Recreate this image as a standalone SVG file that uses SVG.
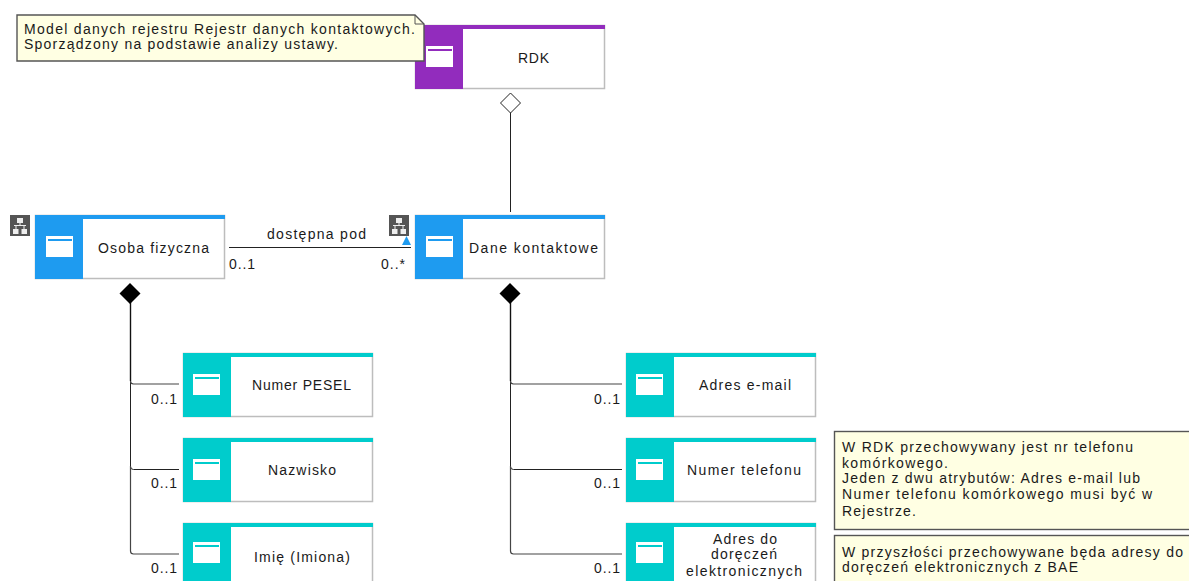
<svg xmlns="http://www.w3.org/2000/svg" width="1189" height="581" viewBox="0 0 1189 581">
<style>
text{font-family:"Liberation Sans",Arial,sans-serif;font-size:14px;fill:#1a1a1a}
.body{fill:#fff;stroke:#bdbdbd;stroke-width:1.5}
.conn{fill:none;stroke:#222;stroke-width:1}
.dark{fill:none;stroke:#111;stroke-width:1.4}
.soft{fill:none;stroke:#444;stroke-width:1.2}
.note{fill:#ffffe3;stroke:#555;stroke-width:1.4}
.i{fill:#fff}
</style>
<defs>
<g id="hier"><rect width="20" height="21" fill="#555"/><g fill="#eee"><rect x="7" y="3" width="6" height="5"/><rect x="3" y="14" width="5.500" height="5"/><rect x="11.500" y="14" width="5.500" height="5"/><path d="M9.500 8h1v2h-1zM4 10h12v1h-12zM5.500 11h1v3h-1zM13.500 11h1v3h-1z"/></g></g>
</defs>
<g id="connectors">
<path class="conn" d="M510.500 112V212"/>
<path class="conn" d="M229 247.500H411"/>
<path class="dark" d="M130.500 300V381"/><path class="conn" d="M130.500 381V466.500q0 3 3 3H179"/><path class="soft" d="M130.500 381q0 3 3 3H179M130.500 466V551q0 3 3 3H179"/>
<path class="dark" d="M510.500 300V381"/><path class="conn" d="M510.500 381V466.500q0 3 3 3H622"/><path class="soft" d="M510.500 381q0 3 3 3H622M510.500 466V551q0 3 3 3H622"/>
<path d="M510.500 93l10 10-10 10-10-10z" fill="#fff" stroke="#222"/>
<path d="M130 283l10.500 10.500-10.500 10.500-10.500-10.500z" fill="#000"/>
<path d="M510 283l10.500 10.500-10.500 10.500-10.500-10.500z" fill="#000"/>
<path d="M402 245l4.500-9 4.500 9z" fill="#1e9bf0"/>
<text x="267" y="239" textLength="99">dostępna pod</text>
<text x="229" y="269" textLength="26">0..1</text>
<text x="381" y="269" textLength="24">0..*</text>
<text x="151" y="404" textLength="26">0..1</text><text x="151" y="488" textLength="26">0..1</text><text x="151" y="573" textLength="26">0..1</text>
<text x="594" y="404" textLength="26">0..1</text><text x="594" y="488" textLength="26">0..1</text><text x="594" y="573" textLength="26">0..1</text>
</g>
<g id="rdk"><rect class="body" x="415.500" y="25.500" width="189" height="63"/><rect x="415" y="25" width="190" height="4" fill="#922cbd"/><rect x="415" y="25" width="48" height="64" fill="#922cbd"/><rect class="i" x="426" y="46" width="27" height="21"/><rect x="428" y="49" width="24" height="2" fill="#922cbd"/><text x="518" y="63" textLength="31">RDK</text></g>
<g id="note-model"><path class="note" d="M17 15H415L424 24V61H17z"/><path d="M415 15V24H424" fill="none" stroke="#555"/><text x="24" y="34" textLength="391">Model danych rejestru Rejestr danych kontaktowych.</text><text x="24" y="49" textLength="314">Sporządzony na podstawie analizy ustawy.</text></g>
<g id="osoba"><use href="#hier" x="10" y="215"/><rect class="body" x="35.500" y="215.500" width="189" height="63"/><rect x="35" y="215" width="190" height="4" fill="#1e9bf0"/><rect x="35" y="215" width="48" height="64" fill="#1e9bf0"/><rect class="i" x="46" y="236" width="27" height="21"/><rect x="48" y="239" width="24" height="2" fill="#1e9bf0"/><text x="98" y="253" textLength="111">Osoba fizyczna</text></g>
<g id="dane"><use href="#hier" x="389" y="215"/><rect class="body" x="415.500" y="215.500" width="189" height="63"/><rect x="415" y="215" width="190" height="4" fill="#1e9bf0"/><rect x="415" y="215" width="48" height="64" fill="#1e9bf0"/><rect class="i" x="426" y="236" width="27" height="21"/><rect x="428" y="239" width="24" height="2" fill="#1e9bf0"/><text x="469" y="253" textLength="129">Dane kontaktowe</text></g>
<g id="pesel"><rect class="body" x="183.500" y="353.500" width="189" height="63"/><rect x="183" y="353" width="190" height="4" fill="#00cccc"/><rect x="183" y="353" width="48" height="64" fill="#00cccc"/><rect class="i" x="193" y="374" width="27" height="21"/><rect x="195" y="377" width="24" height="2" fill="#00cccc"/><text x="252" y="390" textLength="99">Numer PESEL</text></g>
<g id="nazwisko"><rect class="body" x="183.500" y="438.500" width="189" height="63"/><rect x="183" y="438" width="190" height="4" fill="#00cccc"/><rect x="183" y="438" width="48" height="64" fill="#00cccc"/><rect class="i" x="193" y="459" width="27" height="21"/><rect x="195" y="462" width="24" height="2" fill="#00cccc"/><text x="268" y="475" textLength="68">Nazwisko</text></g>
<g id="imie"><rect class="body" x="183.500" y="523.500" width="189" height="63"/><rect x="183" y="523" width="190" height="4" fill="#00cccc"/><rect x="183" y="523" width="48" height="64" fill="#00cccc"/><rect class="i" x="193" y="542" width="27" height="21"/><rect x="195" y="545" width="24" height="2" fill="#00cccc"/><text x="254" y="562" textLength="96">Imię (Imiona)</text></g>
<g id="email"><rect class="body" x="626.500" y="353.500" width="189" height="63"/><rect x="626" y="353" width="190" height="4" fill="#00cccc"/><rect x="626" y="353" width="48" height="64" fill="#00cccc"/><rect class="i" x="636" y="374" width="27" height="21"/><rect x="638" y="377" width="24" height="2" fill="#00cccc"/><text x="699" y="390" textLength="92">Adres e-mail</text></g>
<g id="telefon"><rect class="body" x="626.500" y="438.500" width="189" height="63"/><rect x="626" y="438" width="190" height="4" fill="#00cccc"/><rect x="626" y="438" width="48" height="64" fill="#00cccc"/><rect class="i" x="636" y="459" width="27" height="21"/><rect x="638" y="462" width="24" height="2" fill="#00cccc"/><text x="687" y="475" textLength="114">Numer telefonu</text></g>
<g id="doreczenia"><rect class="body" x="626.500" y="523.500" width="189" height="63"/><rect x="626" y="523" width="190" height="4" fill="#00cccc"/><rect x="626" y="523" width="48" height="64" fill="#00cccc"/><rect class="i" x="636" y="542" width="27" height="21"/><rect x="638" y="545" width="24" height="2" fill="#00cccc"/><text x="713" y="544" textLength="64">Adres do</text><text x="711" y="559" textLength="66">doręczeń</text><text x="686" y="576" textLength="116">elektronicznych</text></g>
<g id="note-telefon"><rect class="note" x="834.500" y="431.500" width="360" height="98"/><text x="842" y="452" textLength="291">W RDK przechowywany jest nr telefonu</text><text x="842" y="468" textLength="106">komórkowego.</text><text x="842" y="483" textLength="298">Jeden z dwu atrybutów: Adres e-mail lub</text><text x="842" y="499" textLength="310">Numer telefonu komórkowego musi być w</text><text x="842" y="516" textLength="74">Rejestrze.</text></g>
<g id="note-bae"><rect class="note" x="834.500" y="535.500" width="360" height="50"/><text x="842" y="557" textLength="341">W przyszłości przechowywane będa adresy do</text><text x="842" y="572" textLength="236">doręczeń elektronicznych z BAE</text></g>
</svg>
